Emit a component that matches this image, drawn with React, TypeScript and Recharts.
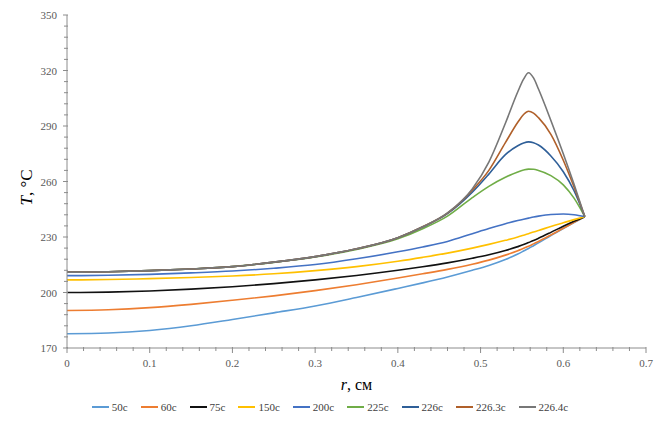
import { LineChart, Line, XAxis, YAxis, Legend } from 'recharts';

// radius, cm
const rValues = [0, 0.05, 0.1, 0.15, 0.2, 0.25, 0.3, 0.35, 0.4, 0.43, 0.46, 0.49, 0.51, 0.53, 0.545, 0.552, 0.558, 0.564, 0.57, 0.585, 0.6, 0.613, 0.626];

// temperature, °C, one list per time
const t50 = [177.7, 178.1, 179.5, 182.0, 185.4, 189.0, 192.7, 197.3, 202.2, 205.2, 208.4, 212.0, 214.6, 217.8, 220.8, 222.4, 223.8, 225.3, 226.8, 230.8, 234.6, 237.8, 241];
const t60 = [190.3, 190.7, 191.8, 193.6, 195.8, 198.2, 201.0, 204.2, 207.8, 210.1, 212.5, 215.3, 217.5, 220.2, 222.6, 223.9, 225.0, 226.3, 227.6, 231.1, 234.7, 237.9, 241];
const t75 = [200.0, 200.2, 200.8, 201.8, 203.1, 204.8, 206.8, 209.2, 212.0, 213.9, 216.0, 218.5, 220.4, 222.7, 224.8, 225.9, 227.0, 228.1, 229.3, 232.5, 235.8, 238.5, 241];
const t150 = [206.8, 207.0, 207.5, 208.1, 208.9, 210.1, 211.8, 214.0, 216.9, 219.0, 221.3, 224.0, 226.0, 228.2, 230.0, 231.0, 231.8, 232.7, 233.5, 235.7, 237.7, 239.4, 241];
const t200 = [209.1, 209.3, 209.8, 210.6, 211.6, 213.1, 215.1, 218.2, 222.0, 224.6, 227.6, 231.8, 234.6, 237.2, 238.9, 239.6, 240.2, 240.8, 241.3, 242.2, 242.4, 242.0, 241];
const t225 = [211.0, 211.2, 211.8, 212.7, 214.0, 216.3, 219.2, 223.3, 229.0, 234.5, 241.3, 251.3, 257.4, 262.3, 265.2, 266.2, 266.7, 266.6, 266.0, 263.2, 258.2, 251.0, 241];
const t226 = [211.0, 211.2, 211.8, 212.7, 214.0, 216.4, 219.4, 223.6, 229.6, 235.4, 242.6, 254.2, 264.0, 274.5, 279.3, 280.8, 281.4, 281.0, 279.7, 273.8, 265.3, 255.0, 241];
const t2263 = [211.0, 211.2, 211.8, 212.7, 214.0, 216.4, 219.4, 223.6, 229.6, 235.5, 242.9, 255.3, 266.0, 281.0, 292.0, 296.2, 298.0, 297.0, 294.5, 285.5, 271.5, 257.0, 241];
const t2264 = [211.0, 211.2, 211.8, 212.7, 214.0, 216.4, 219.4, 223.6, 229.6, 235.5, 243.0, 256.0, 270.5, 291.5, 308.5, 315.3, 318.8, 316.0, 310.0, 293.0, 275.0, 258.5, 241];

const seriesNames = ['50c', '60c', '75c', '150c', '200c', '225c', '226c', '226.3c', '226.4c'];
const seriesValues = [t50, t60, t75, t150, t200, t225, t226, t2263, t2264];
const colors = ['#5B9BD5', '#ED7D31', '#111111', '#FFC000', '#4472C4', '#70AD47', '#2F5F98', '#B0602A', '#777777'];

const xTicks = [0, 0.02, 0.04, 0.06, 0.08, 0.1, 0.12, 0.14, 0.16, 0.18, 0.2, 0.22, 0.24, 0.26, 0.28, 0.3, 0.32, 0.34, 0.36, 0.38, 0.4, 0.42, 0.44, 0.46, 0.48, 0.5, 0.52, 0.54, 0.56, 0.58, 0.6, 0.62, 0.64, 0.66, 0.68, 0.7];
const yTicks = [170, 176, 182, 188, 194, 200, 206, 212, 218, 224, 230, 236, 242, 248, 254, 260, 266, 272, 278, 284, 290, 296, 302, 308, 314, 320, 326, 332, 338, 344, 350];

const data = rValues.map((r, i) => {
  const row: Record<string, number> = { r };
  seriesNames.forEach((name, k) => {
    row[name] = seriesValues[k][i];
  });
  return row;
});

const FONT = '"Liberation Serif", "Times New Roman", serif';
const AXIS = '#8C8C8C';
const LABEL = '#595959';

const isMajor = (v: number, step: number) => Math.abs(v / step - Math.round(v / step)) < 1e-6;

function XTick(props: any) {
  const { x, y, payload } = props;
  const v = payload.value as number;
  const major = isMajor(v, 0.1);
  return (
    <g>
      <line x1={x} y1={y - 1} x2={x} y2={y + (major ? 5 : 3)} stroke={AXIS} />
      {major && (
        <text x={x} y={y + 19} textAnchor="middle" fontSize={11} fill={LABEL} fontFamily={FONT}>
          {String(v)}
        </text>
      )}
    </g>
  );
}

function YTick(props: any) {
  const { x, y, payload } = props;
  const v = payload.value as number;
  const major = isMajor(v - 170, 30);
  return (
    <g>
      <line x1={x - (major ? 4 : 3)} y1={y} x2={x + 1} y2={y} stroke={AXIS} />
      {major && (
        <text x={x - 10} y={y + 4} textAnchor="end" fontSize={11} fill={LABEL} fontFamily={FONT}>
          {v}
        </text>
      )}
    </g>
  );
}

function renderLegend() {
  return (
    <div
      style={{
        display: 'flex',
        justifyContent: 'center',
        alignItems: 'center',
        gap: 13,
        fontFamily: FONT,
        fontSize: 11,
        color: '#404040',
        paddingLeft: 14,
        paddingTop: 8,
      }}
    >
      {seriesNames.map((name, i) => (
        <span key={name} style={{ display: 'inline-flex', alignItems: 'center' }}>
          <span style={{ display: 'inline-block', width: 17, height: 2, background: colors[i], marginRight: 3 }} />
          {name}
        </span>
      ))}
    </div>
  );
}

export default function App() {
  return (
    <div style={{ position: 'absolute', left: 0, top: 0, background: '#fff' }}>
      <LineChart width={660} height={421} data={data} margin={{ top: 15, right: 14, left: 0, bottom: 0 }}>
        <XAxis
          dataKey="r"
          type="number"
          domain={[0, 0.7]}
          ticks={xTicks}
          interval={0}
          tickSize={0}
          tickMargin={0}
          tickLine={false}
          tick={<XTick />}
          stroke={AXIS}
          height={45}
          label={{
            content: (p: any) => {
              const vb = p.viewBox;
              return (
                <text x={vb.x + vb.width / 2} y={vb.y + 42} textAnchor="middle" fontSize={16} fill="#000" fontFamily={FONT}>
                  <tspan fontStyle="italic">r</tspan>
                  <tspan>, см</tspan>
                </text>
              );
            },
          }}
        />
        <YAxis
          type="number"
          domain={[170, 350]}
          ticks={yTicks}
          interval={0}
          tickSize={0}
          tickMargin={0}
          tickLine={false}
          tick={<YTick />}
          stroke={AXIS}
          width={67}
          label={{
            content: (p: any) => {
              const vb = p.viewBox;
              const cy = vb.y + vb.height / 2 + 6;
              return (
                <text x={32} y={cy} transform={`rotate(-90 32 ${cy})`} textAnchor="middle" fontSize={17} fill="#000" fontFamily={FONT}>
                  <tspan fontStyle="italic">T</tspan>
                  <tspan>, °C</tspan>
                </text>
              );
            },
          }}
        />
        <Legend verticalAlign="bottom" height={28} content={renderLegend} />
        {seriesNames.map((name, i) => (
          <Line
            key={name}
            type="monotone"
            dataKey={name}
            stroke={colors[i]}
            strokeWidth={1.6}
            dot={false}
            isAnimationActive={false}
          />
        ))}
      </LineChart>
    </div>
  );
}
